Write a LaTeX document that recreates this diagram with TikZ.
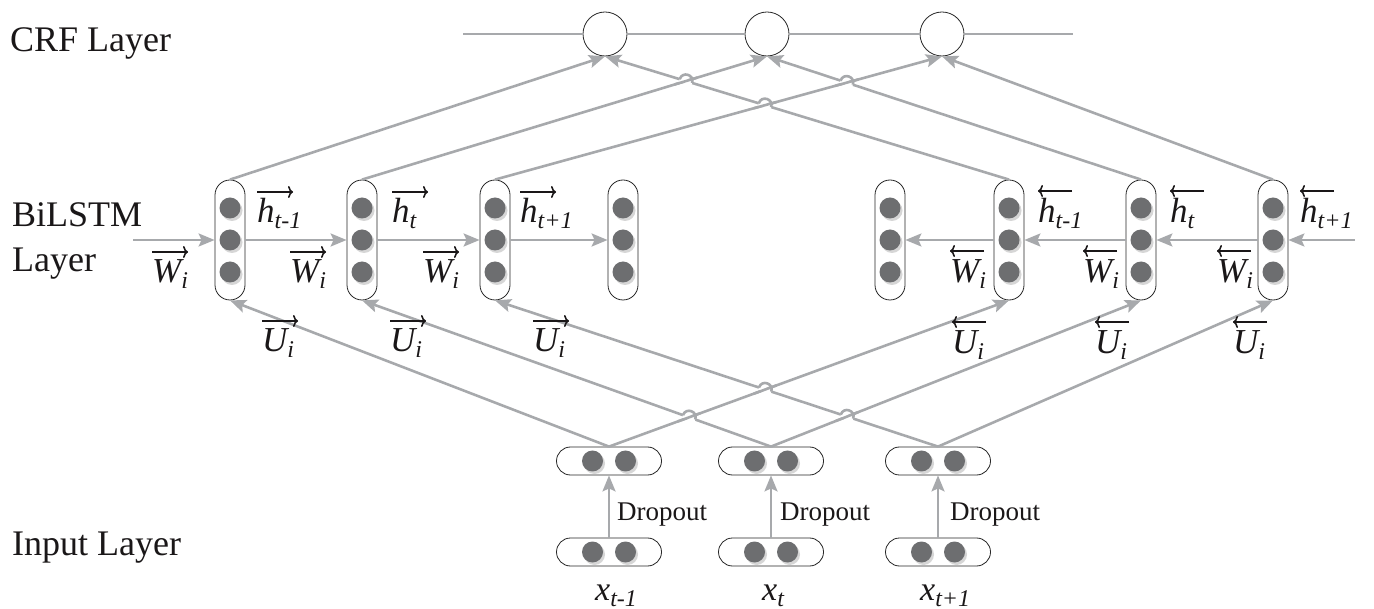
\documentclass[tikz,border=0pt]{standalone}
\usepackage{fontspec}
\setmainfont{Liberation Serif}
\usetikzlibrary{arrows.meta,calc,intersections}
\definecolor{ln}{HTML}{A7A9AC}
\definecolor{dotc}{HTML}{6D6E70}
\definecolor{shd}{HTML}{D6D6D6}
\definecolor{txt}{HTML}{1A1718}
\tikzset{
 conn/.style={draw=ln, line width=2.6pt, -{Stealth[length=16pt,width=13pt,inset=3pt]}},
 plain/.style={draw=ln, line width=2.6pt},
 accarr/.style={draw=txt, line width=1.6pt, -{To[length=5pt,width=12pt]}},
 cell/.style={draw=black!85, line width=0.8pt, fill=white, minimum width=30pt, minimum height=120pt, rounded corners=15pt, inner sep=0pt},
 inp/.style={draw=black!85, line width=0.8pt, fill=white, minimum width=105pt, minimum height=28pt, rounded corners=14pt, inner sep=0pt},
 crf/.style={circle, draw=black!85, line width=0.8pt, fill=white, minimum size=44pt, inner sep=0pt},
 lay/.style={font=\fontsize{36}{45}\selectfont, text=txt, anchor=base west, inner sep=0pt, align=left},
 lab/.style={font=\fontsize{35}{40}\selectfont\itshape, text=txt, anchor=base west, inner sep=0pt},
 drop/.style={font=\fontsize{27}{32}\selectfont, text=txt, anchor=base west, inner sep=0pt},
}
\newcommand\mydot[1]{\fill[shd] ($(#1)+(2,2.5)$) circle (10.5pt); \fill[dotc] (#1) circle (10.5pt);}
\newcommand\sbs[2]{#1\raisebox{-6pt}{\fontsize{24}{26}\selectfont\itshape #2}}
% forward / backward labelled symbol: name, position, letter, subscript
\newcommand\flab[4]{\node[lab] (#1) at (#2) {\sbs{#3}{#4}};
  \draw[accarr] ($(#1.base west)+(0,-31)$) -- ++(36,0);}
\newcommand\blab[4]{\node[lab] (#1) at (#2) {\sbs{#3}{#4}};
  \draw[accarr] ($(#1.base west)+(34,-32)$) -- ++(-34,0);}
% #1,#2 path names; #3,#4 ends of hopping line; #5,#6 ends of straight line
\newcommand\hopover[6]{%
 \path[name intersections={of=#1 and #2, by=hx}];
 \coordinate (hl) at ($(hx)!6.5pt!(#3)$);
 \coordinate (hr) at ($(hx)!6.5pt!(#4)$);
 \draw[white, line width=5pt] (hl) -- (hr);
 \draw[plain] ($(hx)!12pt!(#5)$) -- ($(hx)!12pt!(#6)$);
 \draw[plain] (hl) .. controls ($(hl)!8.7pt!90:(hr)$) and ($(hr)!8.7pt!-90:(hl)$) .. (hr);
}
\begin{document}
\begin{tikzpicture}[x=1pt,y=-1pt]
\useasboundingbox (0,0) rectangle (1374,609);
% layer labels
\node[lay] (crfl) at (10,52) {CRF Layer};
\node[lay] (bil) at (12,272) {BiLSTM\\Layer};
\node[lay] (inl) at (12,555) {Input Layer};
% CRF
\coordinate (crfL) at (463,34);
\coordinate (crfR) at (1073,34);
\node[crf] (c1) at (605,34) {};
\node[crf] (c2) at (767,34) {};
\node[crf] (c3) at (942,34) {};
\draw[plain] (crfL) -- (c1) -- (c2) -- (c3) -- (crfR);
% cells
\foreach \n/\x in {f1/230,f2/362,f3/495,f4/623,b1/890,b2/1009,b3/1141,b4/1273}{
  \node[cell] (\n) at (\x,240) {};
  \mydot{\x,208} \mydot{\x,240} \mydot{\x,272}
}
% input capsules
\foreach \n/\x in {1/609,2/771,3/938}{
  \node[inp] (d\n) at (\x,461) {};
  \mydot{\x-16.5,461} \mydot{\x+16.5,461}
  \node[inp] (x\n) at (\x,552) {};
  \mydot{\x-16.5,552} \mydot{\x+16.5,552}
  \draw[conn] (x\n) -- (d\n);
}
% horizontal recurrences
\coordinate (inL) at (133,240);
\coordinate (inR) at (1355,240);
\draw[conn] (inL) -- (f1);
\draw[conn] (f1) -- (f2);
\draw[conn] (f2) -- (f3);
\draw[conn] (f3) -- (f4);
\draw[conn] (inR) -- (b4);
\draw[conn] (b4) -- (b3);
\draw[conn] (b3) -- (b2);
\draw[conn] (b2) -- (b1);
% to CRF
\draw[conn, name path=A1] (f1.north) -- (c1.south);
\draw[conn, name path=A2] (f2.north) -- (c2.south);
\draw[conn, name path=A3] (f3.north) -- (c3.south);
\draw[conn, name path=B1] (b2.north) -- (c1.south);
\draw[conn, name path=B2] (b3.north) -- (c2.south);
\draw[conn, name path=B3] (b4.north) -- (c3.south);
% from inputs
\draw[conn, name path=U1] (d1.north) -- (f1.south);
\draw[conn, name path=U2] (d2.north) -- (f2.south);
\draw[conn, name path=U3] (d3.north) -- (f3.south);
\draw[conn, name path=V1] (d1.north) -- (b2.south);
\draw[conn, name path=V2] (d2.north) -- (b3.south);
\draw[conn, name path=V3] (d3.north) -- (b4.south);
% hops
\hopover{A2}{B1}{c1.south}{b2.north}{f2.north}{c2.south}
\hopover{A3}{B1}{c1.south}{b2.north}{f3.north}{c3.south}
\hopover{A3}{B2}{c2.south}{b3.north}{f3.north}{c3.south}
\hopover{V1}{U2}{f2.south}{d2.north}{d1.north}{b2.south}
\hopover{V1}{U3}{f3.south}{d3.north}{d1.north}{b2.south}
\hopover{V2}{U3}{f3.south}{d3.north}{d2.north}{b3.south}
% labels forward
\flab{hf1}{257,223}{h}{t-1}
\flab{hf2}{392,223}{h}{t}
\flab{hf3}{520,223}{h}{t+1}
\flab{wf1}{152,283}{W}{i}
\flab{wf2}{290,283}{W}{i}
\flab{wf3}{423,283}{W}{i}
\flab{uf1}{262,352}{U}{i}
\flab{uf2}{390,352}{U}{i}
\flab{uf3}{533,352}{U}{i}
% labels backward
\blab{hb1}{1038,223}{h}{t-1}
\blab{hb2}{1170,223}{h}{t}
\blab{hb3}{1300,223}{h}{t+1}
\blab{wb1}{950,283}{W}{i}
\blab{wb2}{1083,283}{W}{i}
\blab{wb3}{1217,283}{W}{i}
\blab{ub1}{952,354}{U}{i}
\blab{ub2}{1095,354}{U}{i}
\blab{ub3}{1233,354}{U}{i}
% dropout + x labels
\node[drop] (dr1) at (617,520) {Dropout};
\node[drop] (dr2) at (780,520) {Dropout};
\node[drop] (dr3) at (950,520) {Dropout};
\node[lab, font=\fontsize{34}{38}\selectfont\itshape] (xl1) at (595,600) {\sbs{x}{t-1}};
\node[lab, font=\fontsize{34}{38}\selectfont\itshape] (xl2) at (762,600) {\sbs{x}{t}};
\node[lab, font=\fontsize{34}{38}\selectfont\itshape] (xl3) at (920,600) {\sbs{x}{t+1}};
\end{tikzpicture}
\end{document}
